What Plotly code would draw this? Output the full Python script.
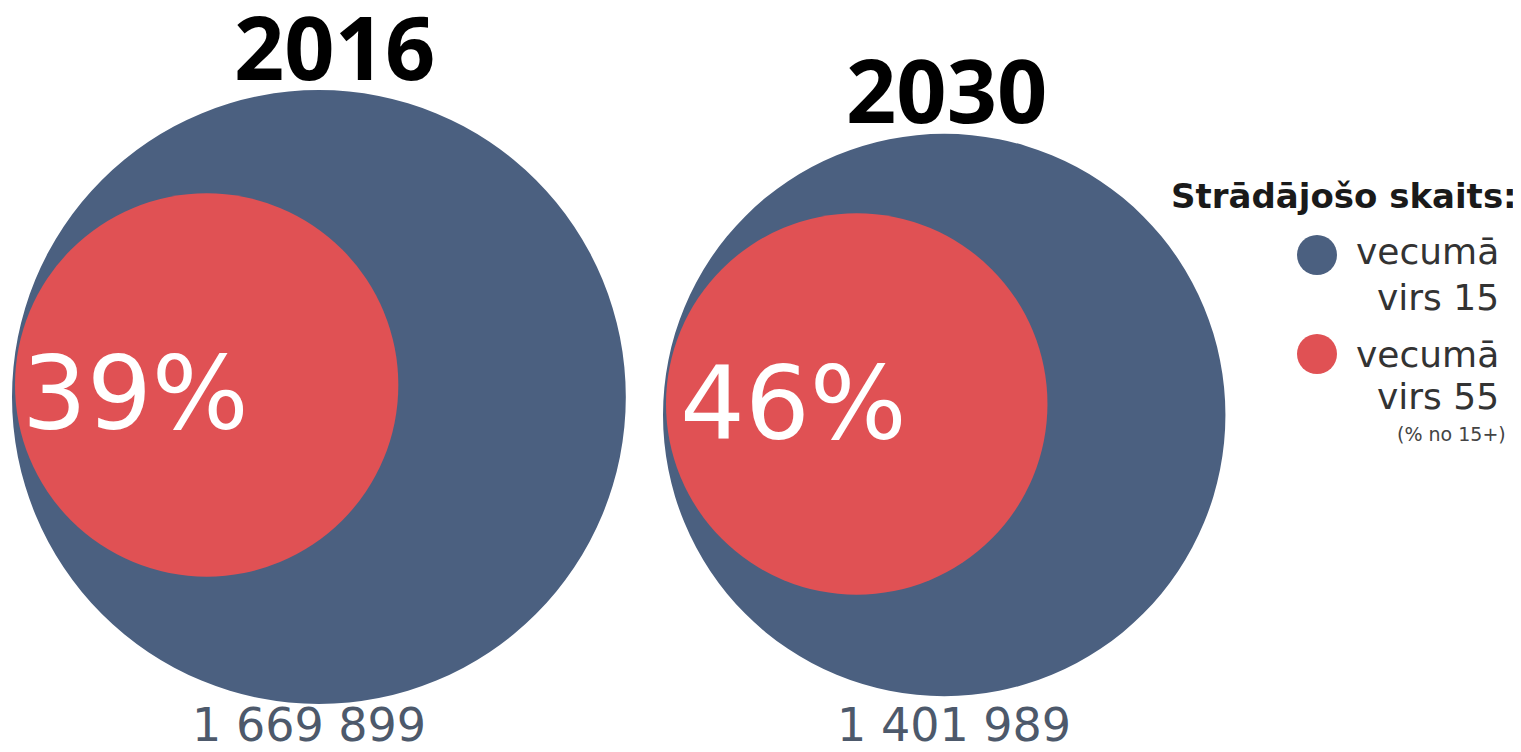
import math
import plotly.graph_objects as go

# ---------------- data ----------------
years = ["2016", "2030"]
workers_15plus = [1669899, 1401989]          # number of workers aged 15+
share_55plus = [39, 46]                      # % of 15+ that are aged 55+
total_labels = ["1 669 899", "1 401 989"]
legend_title = "Strādājošo skaits:"
legend_lines = [["vecumā", "virs 15"], ["vecumā", "virs 55"]]
legend_note = "(% no 15+)"

# ---------------- style / layout ----------------
W, H = 1521, 752
OFF = 8                          # page body margin of the browser
BLUE = "#4b6080"
RED = "#e05154"
NUM_COL = "#4d596b"
FONT = "DejaVu Sans"
TFONT = "Open Sans"
K = 0.2375                      # px per sqrt(worker)
left_edge = [12, 663]           # left edge of each outer circle
center_y = [397, 415]
inner_dy = [-12, -11]
pct_y = [393, 403]
pct_dx = [5, 12]
title_x = [334, 946]
title_gap = [44, 45]
num_x = [309, 954]
num_y = 725

fig = go.Figure()
shapes = []
annotations = []

for i, yr in enumerate(years):
    r = K * math.sqrt(workers_15plus[i])
    cx = left_edge[i] + r
    cy = center_y[i]
    shapes.append(dict(type="circle", xref="x", yref="y",
                       x0=cx - r, x1=cx + r, y0=cy - r, y1=cy + r,
                       fillcolor=BLUE, line=dict(width=0), layer="below"))
    rr = r * math.sqrt(share_55plus[i] / 100)
    rcx = left_edge[i] + 3 + rr
    rcy = cy + inner_dy[i]
    shapes.append(dict(type="circle", xref="x", yref="y",
                       x0=rcx - rr, x1=rcx + rr, y0=rcy - rr, y1=rcy + rr,
                       fillcolor=RED, line=dict(width=0), layer="below"))
    annotations.append(dict(x=rcx - rr + pct_dx[i], y=pct_y[i], xref="x", yref="y",
                            text=f"{share_55plus[i]}%", showarrow=False,
                            xanchor="left", yanchor="middle",
                            font=dict(family=FONT, size=102, color="white")))
    annotations.append(dict(x=title_x[i], y=cy - r - title_gap[i], xref="x", yref="y",
                            text=f"<b>{yr}</b>", showarrow=False,
                            xanchor="center", yanchor="middle",
                            font=dict(family=TFONT, size=88, color="black", weight=800)))
    annotations.append(dict(x=num_x[i], y=num_y, xref="x", yref="y",
                            text=total_labels[i], showarrow=False,
                            xanchor="center", yanchor="middle",
                            font=dict(family=FONT, size=46, color=NUM_COL)))

# legend (built manually)
annotations.append(dict(x=1519, y=196, xref="x", yref="y", text=f"<b>{legend_title}</b>",
                        showarrow=False, xanchor="right", yanchor="middle",
                        font=dict(family=FONT, size=34, color="#1a1a1a")))
dot_y = [255, 354]
line_y = [[251, 297], [354, 396]]
for j, lines in enumerate(legend_lines):
    fig.add_trace(go.Scatter(x=[1317], y=[dot_y[j]], mode="markers",
                             marker=dict(size=40, color=[BLUE, RED][j], line=dict(width=0)),
                             hoverinfo="skip", showlegend=False))
    for k, txt in enumerate(lines):
        annotations.append(dict(x=1501, y=line_y[j][k], xref="x", yref="y", text=txt,
                                showarrow=False, xanchor="right", yanchor="middle",
                                font=dict(family=FONT, size=36, color="#333333")))
annotations.append(dict(x=1508, y=434, xref="x", yref="y", text=legend_note,
                        showarrow=False, xanchor="right", yanchor="middle",
                        font=dict(family=FONT, size=19, color="#444444")))

fig.update_layout(
    width=W - OFF, height=H - OFF, margin=dict(l=0, r=0, t=0, b=0, pad=0),
    paper_bgcolor="white", plot_bgcolor="white",
    xaxis=dict(range=[OFF, W], visible=False, fixedrange=True),
    yaxis=dict(range=[H, OFF], visible=False, fixedrange=True),
    shapes=shapes, annotations=annotations, showlegend=False,
)

fig.write_html("out.html")
